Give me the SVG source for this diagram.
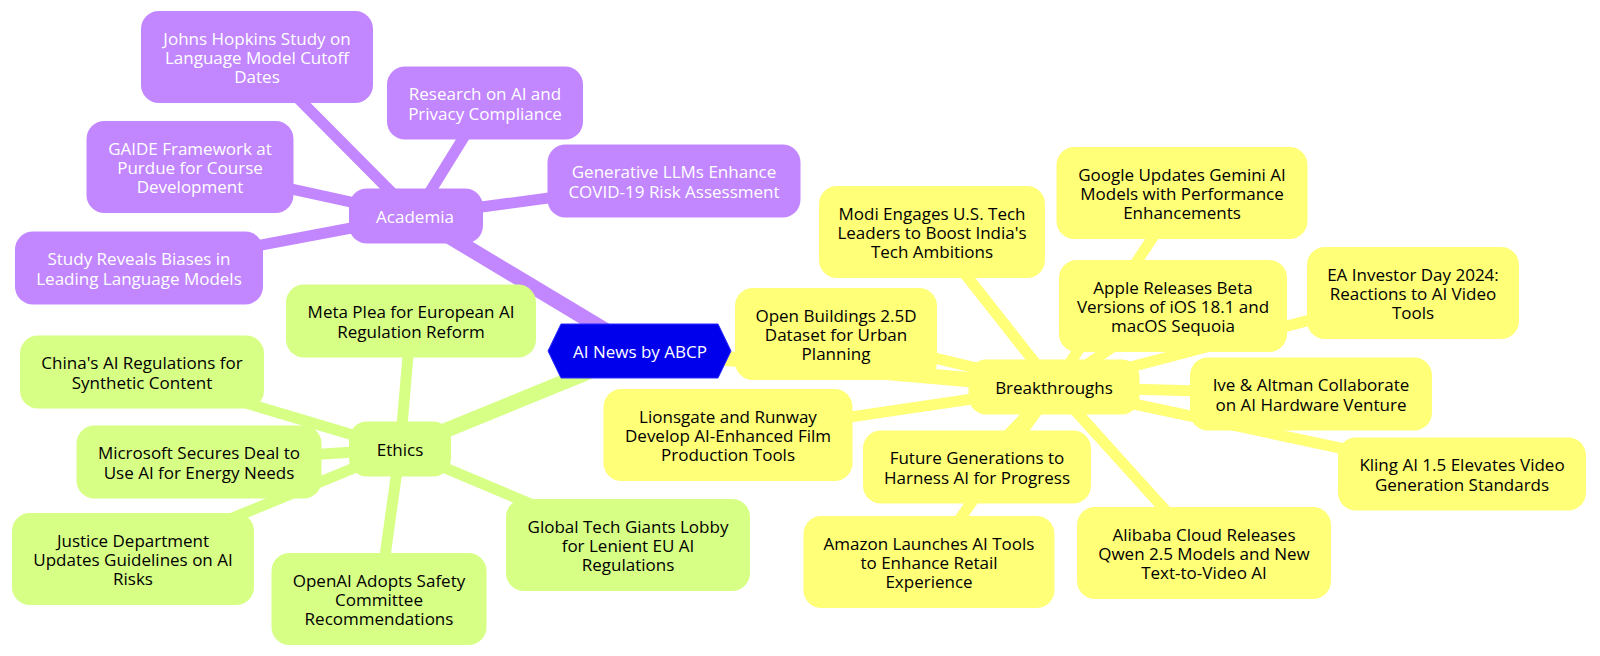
<svg xmlns="http://www.w3.org/2000/svg" width="1600" height="656" viewBox="0 0 1600 656">
<style>
.e{fill:none;stroke-linecap:round}
.e0{stroke-width:15}
.e1{stroke-width:11}
.y{stroke:#FFFF78}
.g{stroke:#D7FF86}
.p{stroke:#C286FF}
.ny rect{fill:#FFFF78}
.ng rect{fill:#D7FF86}
.np rect{fill:#C286FF}
text{font-family:"Open Sans","DejaVu Sans",sans-serif;font-size:17px;text-anchor:middle;dominant-baseline:central;fill:#000}
.np text,#root text{fill:#fff}
</style>
<rect width="1600" height="656" fill="#fff"/>
<g id="connectors">
<line class="e e0 p" x1="640" y1="351" x2="415" y2="216"/>
<line class="e e0 g" x1="640" y1="351" x2="400" y2="449"/>
<line class="e e0 y" x1="640" y1="351" x2="1054" y2="387"/>
<line class="e e1 p" x1="415" y1="216" x2="257" y2="57"/>
<line class="e e1 p" x1="415" y1="216" x2="485" y2="103"/>
<line class="e e1 p" x1="415" y1="216" x2="190" y2="167"/>
<line class="e e1 p" x1="415" y1="216" x2="674" y2="181"/>
<line class="e e1 p" x1="415" y1="216" x2="139" y2="268"/>
<line class="e e1 g" x1="400" y1="449" x2="411" y2="321"/>
<line class="e e1 g" x1="400" y1="449" x2="142" y2="372"/>
<line class="e e1 g" x1="400" y1="449" x2="199" y2="462"/>
<line class="e e1 g" x1="400" y1="449" x2="133" y2="559"/>
<line class="e e1 g" x1="400" y1="449" x2="379" y2="599"/>
<line class="e e1 g" x1="400" y1="449" x2="628" y2="545"/>
<line class="e e1 y" x1="1054" y1="387" x2="932" y2="232"/>
<line class="e e1 y" x1="1054" y1="387" x2="1182" y2="193"/>
<line class="e e1 y" x1="1054" y1="387" x2="1173" y2="306"/>
<line class="e e1 y" x1="1054" y1="387" x2="1413" y2="293"/>
<line class="e e1 y" x1="1054" y1="387" x2="836" y2="334"/>
<line class="e e1 y" x1="1054" y1="387" x2="1311" y2="394"/>
<line class="e e1 y" x1="1054" y1="387" x2="728" y2="435"/>
<line class="e e1 y" x1="1054" y1="387" x2="977" y2="467"/>
<line class="e e1 y" x1="1054" y1="387" x2="1462" y2="474"/>
<line class="e e1 y" x1="1054" y1="387" x2="929" y2="562"/>
<line class="e e1 y" x1="1054" y1="387" x2="1204" y2="553"/>
</g>
<g id="root">
<polygon points="548,351 561,324 718,324 731,351 718,378 561,378" fill="#0000EC" stroke="#2a2aff" stroke-width="1"/>
<text x="640" y="351">AI News by ABCP</text>
</g>
<g id="academia" class="np"><rect x="349" y="188.5" width="134" height="55" rx="18"/><text x="415" y="216">Academia</text></g>
<g id="johns-hopkins" class="np"><rect x="141" y="11" width="232" height="92" rx="18"/><text x="257" y="38">Johns Hopkins Study on<tspan x="257" dy="19">Language Model Cutoff</tspan><tspan x="257" dy="19">Dates</tspan></text></g>
<g id="research-privacy" class="np"><rect x="387" y="66.5" width="196" height="73" rx="18"/><text x="485" y="93.5">Research on AI and<tspan x="485" dy="19">Privacy Compliance</tspan></text></g>
<g id="gaide" class="np"><rect x="86.5" y="121" width="207" height="92" rx="18"/><text x="190" y="148">GAIDE Framework at<tspan x="190" dy="19">Purdue for Course</tspan><tspan x="190" dy="19">Development</tspan></text></g>
<g id="generative-llms" class="np"><rect x="547.5" y="144.5" width="253" height="73" rx="18"/><text x="674" y="171.5">Generative LLMs Enhance<tspan x="674" dy="19">COVID-19 Risk Assessment</tspan></text></g>
<g id="study-biases" class="np"><rect x="15" y="231.5" width="248" height="73" rx="18"/><text x="139" y="258.5">Study Reveals Biases in<tspan x="139" dy="19">Leading Language Models</tspan></text></g>
<g id="ethics" class="ng"><rect x="349" y="421.5" width="102" height="55" rx="18"/><text x="400" y="449">Ethics</text></g>
<g id="meta-plea" class="ng"><rect x="286" y="284.5" width="250" height="73" rx="18"/><text x="411" y="311.5">Meta Plea for European AI<tspan x="411" dy="19">Regulation Reform</tspan></text></g>
<g id="china" class="ng"><rect x="20" y="335.5" width="244" height="73" rx="18"/><text x="142" y="362.5">China's AI Regulations for<tspan x="142" dy="19">Synthetic Content</tspan></text></g>
<g id="microsoft" class="ng"><rect x="76.5" y="425.5" width="245" height="73" rx="18"/><text x="199" y="452.5">Microsoft Secures Deal to<tspan x="199" dy="19">Use AI for Energy Needs</tspan></text></g>
<g id="justice" class="ng"><rect x="12" y="513" width="242" height="92" rx="18"/><text x="133" y="540">Justice Department<tspan x="133" dy="19">Updates Guidelines on AI</tspan><tspan x="133" dy="19">Risks</tspan></text></g>
<g id="openai" class="ng"><rect x="271.5" y="553" width="215" height="92" rx="18"/><text x="379" y="580">OpenAI Adopts Safety<tspan x="379" dy="19">Committee</tspan><tspan x="379" dy="19">Recommendations</tspan></text></g>
<g id="global-tech" class="ng"><rect x="506" y="499" width="244" height="92" rx="18"/><text x="628" y="526">Global Tech Giants Lobby<tspan x="628" dy="19">for Lenient EU AI</tspan><tspan x="628" dy="19">Regulations</tspan></text></g>
<g id="breakthroughs" class="ny"><rect x="968.5" y="359.5" width="171" height="55" rx="18"/><text x="1054" y="387">Breakthroughs</text></g>
<g id="modi" class="ny"><rect x="819" y="186" width="226" height="92" rx="18"/><text x="932" y="213">Modi Engages U.S. Tech<tspan x="932" dy="19">Leaders to Boost India's</tspan><tspan x="932" dy="19">Tech Ambitions</tspan></text></g>
<g id="google" class="ny"><rect x="1056.5" y="147" width="251" height="92" rx="18"/><text x="1182" y="174">Google Updates Gemini AI<tspan x="1182" dy="19">Models with Performance</tspan><tspan x="1182" dy="19">Enhancements</tspan></text></g>
<g id="apple" class="ny"><rect x="1059" y="260" width="228" height="92" rx="18"/><text x="1173" y="287">Apple Releases Beta<tspan x="1173" dy="19">Versions of iOS 18.1 and</tspan><tspan x="1173" dy="19">macOS Sequoia</tspan></text></g>
<g id="ea" class="ny"><rect x="1307" y="247" width="212" height="92" rx="18"/><text x="1413" y="274">EA Investor Day 2024:<tspan x="1413" dy="19">Reactions to AI Video</tspan><tspan x="1413" dy="19">Tools</tspan></text></g>
<g id="open-buildings" class="ny"><rect x="735" y="288" width="202" height="92" rx="18"/><text x="836" y="315">Open Buildings 2.5D<tspan x="836" dy="19">Dataset for Urban</tspan><tspan x="836" dy="19">Planning</tspan></text></g>
<g id="ive-altman" class="ny"><rect x="1190" y="357.5" width="242" height="73" rx="18"/><text x="1311" y="384.5">Ive &amp; Altman Collaborate<tspan x="1311" dy="19">on AI Hardware Venture</tspan></text></g>
<g id="lionsgate" class="ny"><rect x="603.5" y="389" width="249" height="92" rx="18"/><text x="728" y="416">Lionsgate and Runway<tspan x="728" dy="19">Develop AI-Enhanced Film</tspan><tspan x="728" dy="19">Production Tools</tspan></text></g>
<g id="future" class="ny"><rect x="863" y="430.5" width="228" height="73" rx="18"/><text x="977" y="457.5">Future Generations to<tspan x="977" dy="19">Harness AI for Progress</tspan></text></g>
<g id="kling" class="ny"><rect x="1338" y="437.5" width="248" height="73" rx="18"/><text x="1462" y="464.5">Kling AI 1.5 Elevates Video<tspan x="1462" dy="19">Generation Standards</tspan></text></g>
<g id="amazon" class="ny"><rect x="803.5" y="516" width="251" height="92" rx="18"/><text x="929" y="543">Amazon Launches AI Tools<tspan x="929" dy="19">to Enhance Retail</tspan><tspan x="929" dy="19">Experience</tspan></text></g>
<g id="alibaba" class="ny"><rect x="1077" y="507" width="254" height="92" rx="18"/><text x="1204" y="534">Alibaba Cloud Releases<tspan x="1204" dy="19">Qwen 2.5 Models and New</tspan><tspan x="1204" dy="19">Text-to-Video AI</tspan></text></g>
</svg>
